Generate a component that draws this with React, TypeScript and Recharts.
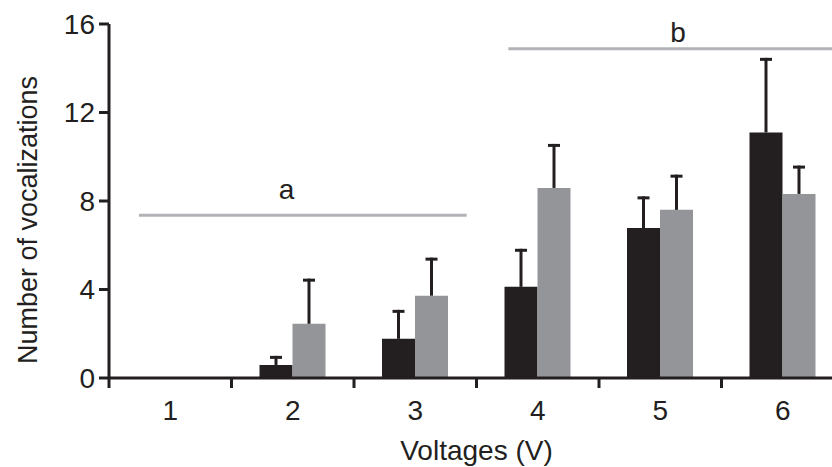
import { BarChart, Bar, XAxis, YAxis, ReferenceLine, ReferenceDot, Label } from 'recharts';

const voltages = ['1', '2', '3', '4', '5', '6'];
const blackMeans = [0, 0.59, 1.77, 4.12, 6.78, 11.1];
const blackErrors = [0, 0.41, 1.31, 1.72, 1.43, 3.37];
const grayMeans = [0, 2.45, 3.72, 8.59, 7.6, 8.32];
const grayErrors = [0, 2.04, 1.72, 1.99, 1.59, 1.28];
const yTicks = [0, 4, 8, 12, 16];

// significance groups, x on a 0..6 scale (one unit per voltage)
const groupA = { from: 0.245, to: 2.92, level: 7.36, labelAt: 1.45, text: 'a' };
const groupB = { from: 3.26, to: 6, level: 14.88, labelAt: 4.645, text: 'b' };

const INK = '#231f20';
const GRAY = '#939598';
const LINE = '#b1b3b6';
const FONT = '"Liberation Sans", Arial, sans-serif';

const W = 850;
const H = 467;
const LEFT = 109;
const RIGHT = 6;
const STEP = (W - LEFT - RIGHT) / voltages.length;

const data = voltages.map((v, i) => ({
  voltage: v,
  pos: i + 0.5,
  black: blackMeans[i],
  blackErr: blackErrors[i],
  gray: grayMeans[i],
  grayErr: grayErrors[i],
}));

const ErrorCap = (props: any) => {
  const { x, y, width, height } = props;
  if (!height || height <= 0) return <g />;
  const cx = x + width / 2;
  return (
    <g stroke={INK} strokeWidth={3}>
      <line x1={cx} x2={cx} y1={y + height} y2={y} />
      <line x1={cx - 6} x2={cx + 6} y1={y + 1.5} y2={y + 1.5} />
    </g>
  );
};

const VoltTick = (props: any) => {
  const { x, y, payload } = props;
  const left = x - STEP / 2;
  return (
    <g>
      <line x1={left} x2={left} y1={y} y2={y + 10} stroke={INK} strokeWidth={3} />
      <text x={x} y={y + 42} textAnchor="middle" fill={INK} fontSize={28} fontFamily={FONT}>
        {payload.value}
      </text>
    </g>
  );
};

export default function App() {
  return (
    <div style={{ position: 'fixed', left: 0, top: 0, width: 832, height: 467, overflow: 'hidden', background: '#fff' }}>
      <BarChart
        width={W}
        height={H}
        data={data}
        margin={{ top: 24, right: RIGHT, bottom: 0, left: 0 }}
        barCategoryGap={28}
        barGap={0}
      >
        <XAxis
          dataKey="voltage"
          height={89}
          interval={0}
          tickLine={false}
          tickSize={0}
          tickMargin={0}
          axisLine={{ stroke: INK, strokeWidth: 3 }}
          tick={<VoltTick />}
        >
          <Label value="Voltages (V)" position="insideBottom" offset={7} fill={INK} fontSize={28} fontFamily={FONT} />
        </XAxis>
        <XAxis xAxisId="num" dataKey="pos" type="number" domain={[0, 6]} allowDataOverflow hide />
        <YAxis
          width={LEFT}
          domain={[0, 16]}
          ticks={yTicks}
          interval={0}
          tickSize={10}
          tickMargin={4}
          axisLine={{ stroke: INK, strokeWidth: 3 }}
          tickLine={{ stroke: INK, strokeWidth: 3 }}
          tick={{ fill: INK, fontSize: 28, fontFamily: FONT }}
        >
          <Label
            content={() => (
              <text
                transform="translate(28,220) rotate(-90)"
                textAnchor="middle"
                dominantBaseline="central"
                fill={INK}
                fontSize={27}
                fontFamily={FONT}
              >
                Number of vocalizations
              </text>
            )}
          />
        </YAxis>
        <Bar dataKey="black" stackId="k" fill={INK} isAnimationActive={false} />
        <Bar dataKey="blackErr" stackId="k" shape={<ErrorCap />} isAnimationActive={false} />
        <Bar dataKey="gray" stackId="g" fill={GRAY} isAnimationActive={false} />
        <Bar dataKey="grayErr" stackId="g" shape={<ErrorCap />} isAnimationActive={false} />
        {[groupA, groupB].map((g) => (
          <ReferenceLine
            key={g.text}
            xAxisId="num"
            ifOverflow="visible"
            segment={[{ x: g.from, y: g.level }, { x: g.to, y: g.level }]}
            stroke={LINE}
            strokeWidth={3}
          />
        ))}
        <ReferenceDot
          xAxisId="num"
          x={groupA.labelAt}
          y={groupA.level}
          r={0}
          fill="none"
          stroke="none"
          ifOverflow="visible"
          label={{ value: groupA.text, position: 'top', offset: 16, fill: INK, fontSize: 28, fontFamily: FONT }}
        />
        <ReferenceDot
          xAxisId="num"
          x={groupB.labelAt}
          y={groupB.level}
          r={0}
          fill="none"
          stroke="none"
          ifOverflow="visible"
          label={{ value: groupB.text, position: 'top', offset: 7, fill: INK, fontSize: 28, fontFamily: FONT }}
        />
      </BarChart>
    </div>
  );
}
